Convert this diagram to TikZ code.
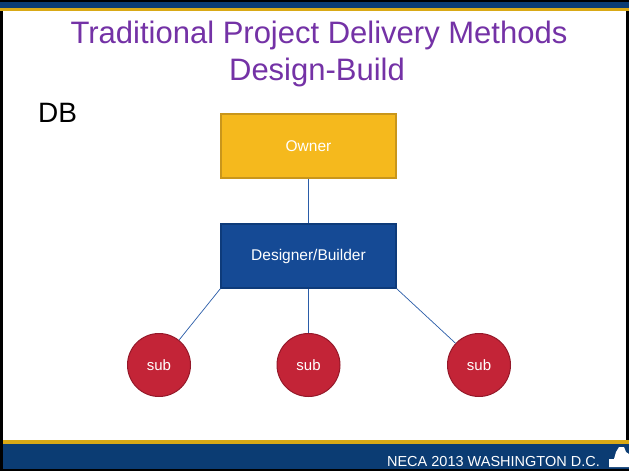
\documentclass[tikz,border=0pt]{standalone}
\usepackage{fontspec}
\setmainfont{Liberation Sans}
\usetikzlibrary{positioning}
\definecolor{bandblue}{HTML}{0B3C73}
\definecolor{bandgold}{HTML}{D9A916}
\definecolor{titlepurple}{HTML}{7432A6}
\definecolor{ownergold}{HTML}{F5B91D}
\definecolor{ownerline}{HTML}{C9961B}
\definecolor{dbblue}{HTML}{154A95}
\definecolor{dbline}{HTML}{0E3B7A}
\definecolor{subred}{HTML}{C32437}
\definecolor{subline}{HTML}{95192A}
\definecolor{linkblue}{HTML}{2A5CA8}
\tikzset{rolebox/.style={draw, line width=1.2pt, minimum width=175pt, minimum height=64pt, inner sep=0pt, text=white, font=\fontsize{15.5}{17}\selectfont}}
\tikzset{subcircle/.style={circle, draw=subline, fill=subred, line width=1pt, minimum size=63pt, inner sep=0pt, text=white, font=\fontsize{15}{17}\selectfont}}
\tikzset{titleline/.style={anchor=base, inner sep=0pt, text=titlepurple, font=\fontsize{31}{37}\selectfont}}
\tikzset{link/.style={draw=linkblue, line width=0.7pt}}

\begin{document}
\begin{tikzpicture}[x=1pt, y=-1pt]
	\useasboundingbox (0,0) rectangle (629,471);
	% slide frame and bands
	\fill[black] (0,0) rectangle (629,471);
	\fill[white] (3,11) rectangle (626,440);
	\fill[bandblue] (0,2) rectangle (629,8);
	\fill[bandgold] (0,8) rectangle (629,11);
	\fill[bandgold] (3,440) rectangle (629,444);
	\fill[bandblue] (3,444) rectangle (629,469);
	\node[anchor=base east, inner sep=0pt, text=white, font=\fontsize{14.5}{16}\selectfont] (footer) at (600,466) {NECA 2013 WASHINGTON D.C.};
	\fill[white] (609,467) -- (609,459) -- (614,459) -- (616,452) -- (619,447) -- (624,447) -- (626,452) -- (629,454) -- (629,467) -- cycle;
	
	\node[titleline] (title1) at (319,43) {Traditional Project Delivery Methods};
	\node[titleline] (title2) at (317,80) {Design-Build};
	\node[anchor=base west, inner sep=0pt, font=\fontsize{28}{30}\selectfont] (tag) at (38,122) {DB};
	
	\node[rolebox, fill=ownergold, draw=ownerline] (owner) at (308.5,146) {Owner};
	\node[rolebox, fill=dbblue, draw=dbline] (db) at (308.5,256) {Designer/Builder};
	\node[subcircle] (sub1) at (159,365) {sub};
	\node[subcircle] (sub2) at (308.5,365) {sub};
	\node[subcircle] (sub3) at (479,365) {sub};
	
	\begin{scope}[link]
		\draw (owner) -- (db);
		\draw (db.south west) -- (sub1);
		\draw (db) -- (sub2);
		\draw (db.south east) -- (sub3);
	\end{scope}
\end{tikzpicture}
\end{document}
